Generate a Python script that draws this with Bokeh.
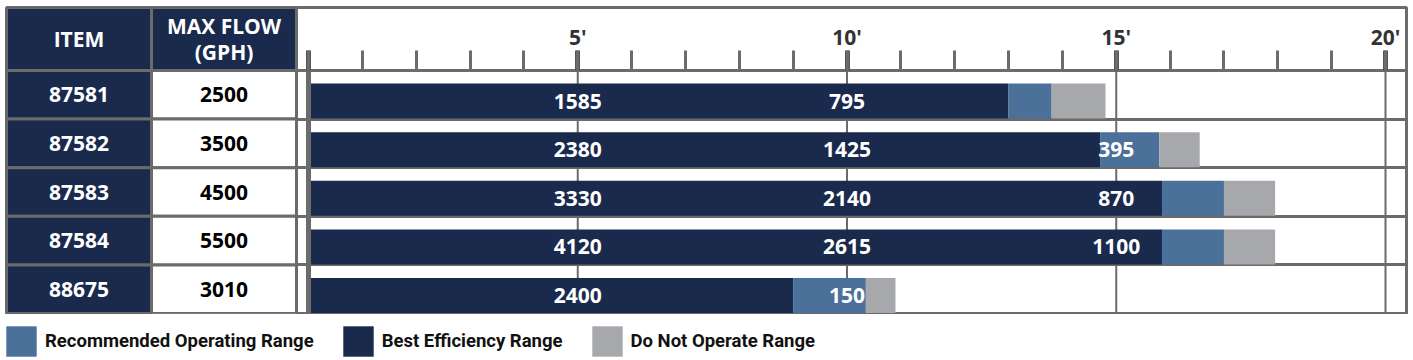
from bokeh.plotting import figure
from bokeh.models import (ColumnDataSource, Range1d, FactorRange, LinearAxis, FixedTicker,
                          Legend, LegendItem)
from bokeh.layouts import column, row
from bokeh.embed import file_html
from bokeh.resources import INLINE
from bokeh.core.properties import value

# ---------------- data ----------------
items = ["87581", "87582", "87583", "87584", "88675"]
max_flow = ["2500", "3500", "4500", "5500", "3010"]
col_headers = ["ITEM", "MAX FLOW (GPH)"]
# head (feet) at which each range ends
best_end = [13.0, 14.7, 15.85, 15.85, 9.0]
rec_end = [13.8, 15.8, 17.0, 17.0, 10.35]
dno_end = [14.8, 16.55, 17.95, 17.95, 10.9]
# flow (GPH) at 5', 10', 15'
flow_heads = [5, 10, 15]
flow_at_5 = ["1585", "2380", "3330", "4120", "2400"]
flow_at_10 = ["795", "1425", "2140", "2615", "150"]
flow_at_15 = ["", "395", "870", "1100", ""]
major_ticks = [0, 5, 10, 15, 20]
tick_labels = ["", "5'", "10'", "15'", "20'"]
minor_ticks = list(range(0, 21))
series = ["Recommended Operating Range", "Best Efficiency Range", "Do Not Operate Range"]

# ---------------- style ----------------
NAVY = "#192a4d"
BLUE = "#4b7099"
GREY = "#a7a8ab"
LINE = "#6b6b6b"
FONT = "Open Sans"
W = 1413
H_TOP = 314
H_LEG = 46
TABLE_W = 296
CHART_W = W - TABLE_W
LEFT_PAD = 6
TOP_PAD = 7
BOTTOM_PAD = 1
RIGHT_PAD = 7
HEADER_PX = 63
n = len(items)
ROW_PX = (H_TOP - TOP_PAD - BOTTOM_PAD - HEADER_PX) / n
HDR = HEADER_PX / ROW_PX
PX_PER_FT = 53.85
ZERO_OFFSET_PX = 12
X0 = -ZERO_OFFSET_PX / PX_PER_FT
X1 = X0 + (CHART_W - RIGHT_PAD) / PX_PER_FT

yr = Range1d(start=n, end=-HDR)
centers = [k + 0.5 for k in range(n)]
bar_y = [k + 0.63 for k in range(n)]

# ---------------- table ----------------
tp = figure(width=TABLE_W, height=H_TOP, x_range=FactorRange(*col_headers), y_range=yr,
            toolbar_location=None, output_backend="svg", min_border=0,
            min_border_left=LEFT_PAD, min_border_top=TOP_PAD, min_border_bottom=BOTTOM_PAD,
            x_axis_location=None, y_axis_location=None,
            outline_line_color=LINE, outline_line_width=3, outline_line_alpha=1)
tp.grid.visible = False

head_src = ColumnDataSource(dict(x=col_headers, y=[-HDR / 2] * 2,
                                 t=[h.replace(" (", "\n(") for h in col_headers]))
tp.rect(x="x", y="y", width=1, height=HDR, source=head_src, fill_color=NAVY,
        line_color=LINE, line_width=3)
tp.text(x="x", y="y", text="t", source=head_src, text_color="white",
        text_font=value(FONT), text_font_style="bold", text_font_size="21px",
        text_align="center", text_baseline="middle", text_line_height=0.9)

cell_src = ColumnDataSource(dict(
    x=[col_headers[0]] * n + [col_headers[1]] * n,
    y=centers + centers,
    t=items + max_flow,
    fill=[NAVY] * n + ["white"] * n,
    color=["white"] * n + ["black"] * n,
))
tp.rect(x="x", y="y", width=1, height=1, source=cell_src, fill_color="fill",
        line_color=LINE, line_width=3)
tp.text(x="x", y="y", text="t", source=cell_src, text_color="color",
        text_font=value(FONT), text_font_style="bold", text_font_size="21px",
        text_align="center", text_baseline="middle")

# ---------------- chart ----------------
cp = figure(width=CHART_W, height=H_TOP, x_range=Range1d(X0, X1), y_range=yr,
            toolbar_location=None, output_backend="svg", min_border=0,
            min_border_top=TOP_PAD, min_border_bottom=BOTTOM_PAD, min_border_right=RIGHT_PAD,
            x_axis_location=None, y_axis_location=None,
            outline_line_color=LINE, outline_line_width=3, outline_line_alpha=1)
cp.grid.visible = False

cp.hspan(y=list(range(1, n)), line_color=LINE, line_width=3)
grid_x = major_ticks[1:]
cp.segment(x0=grid_x, x1=grid_x, y0=[0] * len(grid_x), y1=[n] * len(grid_x),
           line_color=LINE, line_width=2)

src = ColumnDataSource(dict(y=bar_y, zero=[0] * n, best=best_end, rec=rec_end, dno=dno_end))
BAR_H = 0.72
cp.hbar(y="y", left="zero", right="best", height=BAR_H, source=src, fill_color=NAVY, line_color=None)
cp.hbar(y="y", left="best", right="rec", height=BAR_H, source=src, fill_color=BLUE, line_color=None)
cp.hbar(y="y", left="rec", right="dno", height=BAR_H, source=src, fill_color=GREY, line_color=None)

cp.segment(x0=[0], x1=[0], y0=[0], y1=[n], line_color=LINE, line_width=5)

lx, ly, lt = [], [], []
for head, vals in zip(flow_heads, [flow_at_5, flow_at_10, flow_at_15]):
    for k, v in enumerate(vals):
        if v:
            lx.append(head)
            ly.append(bar_y[k])
            lt.append(v)
cp.text(x=lx, y=ly, text=lt, text_color="white", text_font=value(FONT),
        text_font_style="bold", text_font_size="21px", text_align="center",
        text_baseline="middle")

ax = LinearAxis(fixed_location=0,
                ticker=FixedTicker(ticks=major_ticks, minor_ticks=minor_ticks),
                major_label_overrides={t: l for t, l in zip(major_ticks, tick_labels)},
                axis_line_color=LINE, axis_line_width=3,
                major_tick_in=0, major_tick_out=20, major_tick_line_width=5,
                major_tick_line_color="#555555",
                minor_tick_in=0, minor_tick_out=20, minor_tick_line_width=3,
                minor_tick_line_color=LINE,
                major_label_text_font=FONT, major_label_text_font_size="21px",
                major_label_text_font_style="bold", major_label_text_color="#333333",
                major_label_standoff=0)
cp.add_layout(ax, "above")

# ---------------- legend ----------------
lp = figure(width=W, height=H_LEG, x_range=Range1d(0, 1), y_range=Range1d(0, 1),
            toolbar_location=None, output_backend="svg", min_border=0,
            x_axis_location=None, y_axis_location=None, outline_line_color=None)
lp.grid.visible = False
colors = [BLUE, NAVY, GREY]
# legend swatches: one bar each, placed outside the visible range
rs = [lp.hbar(y=[-5], left=[-5], right=[-4], height=1, fill_color=c, line_color=None)
      for c in colors]
legend = Legend(items=[LegendItem(label=s, renderers=[r]) for s, r in zip(series, rs)],
                orientation="horizontal", location=(2, 0),
                glyph_width=38, glyph_height=38, label_standoff=5, spacing=25,
                padding=0, margin=0, border_line_color=None, background_fill_alpha=0,
                label_text_font="Roboto", label_text_font_size="18.5px",
                label_text_font_style="bold", label_text_color="#111111",
                label_text_baseline="middle")
lp.add_layout(legend)

layout = column(row(tp, cp), lp)
open("out.html", "w").write(file_html(layout, INLINE))
